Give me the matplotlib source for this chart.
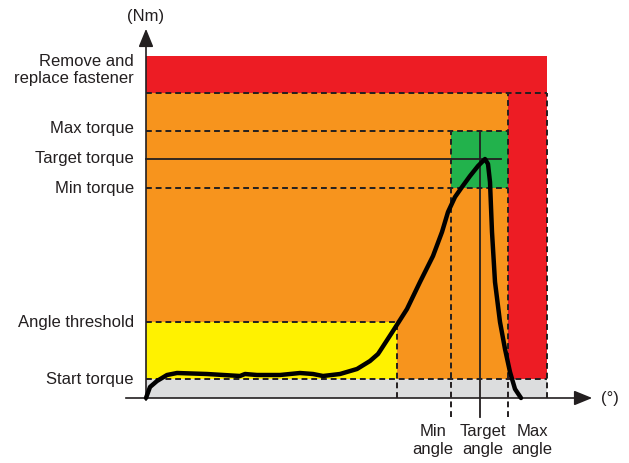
import matplotlib.pyplot as plt
from matplotlib.patches import Rectangle

plt.rcParams['font.family'] = ['Liberation Sans', 'DejaVu Sans']

# limits (arbitrary units: x in deg, y in Nm)
start_torque = 19
angle_threshold = 76
min_torque = 210
target_torque = 239
max_torque = 267
upper_limit = 305
top_limit = 342

threshold_angle = 251
min_angle = 305
target_angle = 334
max_angle = 362
right_limit = 401

# measured tightening curve
curve_x = [0, 4, 11, 21, 31, 61, 94, 99, 111, 134, 154, 167, 177, 194, 211, 224, 232,
           234, 247, 261, 274, 287, 296, 302, 309, 316, 324, 332, 339, 342, 344, 346,
           349, 354, 359, 364, 369, 375]
curve_y = [0, 11, 17, 23, 25, 24, 22, 24, 23, 23, 25, 24, 22, 24, 29, 37, 44,
           47, 67, 89, 116, 142, 166, 186, 201, 211, 222, 232, 239, 234, 216, 166,
           116, 76, 49, 26, 9, 0]

left_labels = ['Remove and\nreplace fastener', 'Max torque', 'Target torque', 'Min torque',
               'Angle threshold', 'Start torque']
left_label_y = [329, 271, 241, 210, 77, 19]
bottom_labels = ['Min\nangle', 'Target\nangle', 'Max\nangle']
bottom_label_x = [287, 337, 386]

RED = '#ed1c24'
ORANGE = '#f7941d'
GREEN = '#22b24c'
YELLOW = '#fff200'
GRAY = '#dcddde'
INK = '#231f20'

fig = plt.figure(figsize=(6.29, 4.64), dpi=100)
ax = fig.add_axes([0, 0, 1, 1])
ax.set_xlim(-146, 629 - 146)
ax.set_ylim(399 - 464, 399)
ax.axis('off')

# colour zones
ax.add_patch(Rectangle((0, 0), right_limit, start_torque, color=GRAY, lw=0))
ax.add_patch(Rectangle((0, start_torque), max_angle, upper_limit - start_torque, color=ORANGE, lw=0))
ax.add_patch(Rectangle((0, start_torque), threshold_angle, angle_threshold - start_torque, color=YELLOW, lw=0))
ax.add_patch(Rectangle((0, upper_limit), right_limit, top_limit - upper_limit, color=RED, lw=0))
ax.add_patch(Rectangle((max_angle, start_torque), right_limit - max_angle, upper_limit - start_torque, color=RED, lw=0))
ax.add_patch(Rectangle((min_angle, min_torque), max_angle - min_angle, max_torque - min_torque, color=GREEN, lw=0))

dash = dict(color=INK, lw=1.4, linestyle=(0, (3, 2)))
ax.plot([0, right_limit], [start_torque, start_torque], **dash)
ax.plot([0, threshold_angle], [angle_threshold, angle_threshold], **dash)
ax.plot([0, max_angle], [min_torque, min_torque], **dash)
ax.plot([0, max_angle], [max_torque, max_torque], **dash)
ax.plot([0, right_limit], [upper_limit, upper_limit], **dash)
ax.plot([threshold_angle, threshold_angle], [0, angle_threshold], **dash)
ax.plot([min_angle, min_angle], [-19, max_torque], **dash)
ax.plot([max_angle, max_angle], [-19, upper_limit], **dash)
ax.plot([right_limit, right_limit], [0, upper_limit], **dash)
ax.plot([0, 355], [target_torque, target_torque], color=INK, lw=1.3)
ax.plot([target_angle, target_angle], [-19, max_torque], color=INK, lw=1.3)

# axes with arrows
ax.plot([-20, 435], [0, 0], color=INK, lw=1.2)
ax.plot([0, 0], [-2, 360], color=INK, lw=1.2)
ax.annotate('', xy=(449, 0), xytext=(430, 0),
            arrowprops=dict(arrowstyle='-|>,head_length=1.1,head_width=0.45', color=INK, lw=1.2))
ax.annotate('', xy=(0, 372), xytext=(0, 355),
            arrowprops=dict(arrowstyle='-|>,head_length=1.1,head_width=0.45', color=INK, lw=1.2))
ax.text(0, 382, '(Nm)', ha='center', va='center', fontsize=12, color=INK)
ax.text(464, 0, '(°)', ha='center', va='center', fontsize=12, color=INK)

ax.plot(curve_x, curve_y, color='black', lw=3.2, solid_capstyle='round', solid_joinstyle='round')

for lbl, y in zip(left_labels, left_label_y):
    ax.text(-12, y, lbl, ha='right', va='center', fontsize=12, color=INK, linespacing=1.25)
for lbl, x in zip(bottom_labels, bottom_label_x):
    ax.text(x, -42, lbl, ha='center', va='center', fontsize=12, color=INK, linespacing=1.25)

fig.savefig('out.png', dpi=100)
